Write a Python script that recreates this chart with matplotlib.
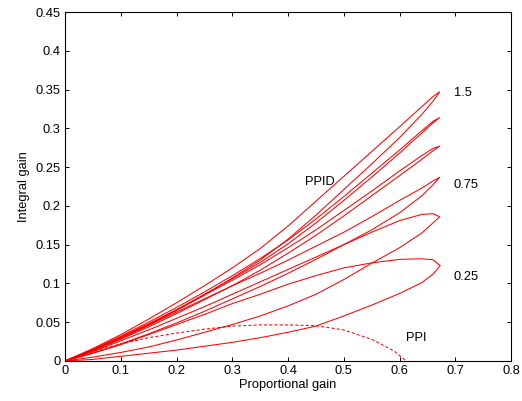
import matplotlib
matplotlib.use('Agg')
import matplotlib.pyplot as plt
import numpy as np

plt.rcParams['font.family'] = ['Liberation Sans', 'DejaVu Sans']

# proportional gain sample positions for each branch
kp = [0, 0.05, 0.1, 0.15, 0.2, 0.25, 0.3, 0.35, 0.4, 0.45, 0.5, 0.55, 0.6, 0.64, 0.66]

# PPID stability loops (upper and lower branch, then tip)
l1_up = [0, .016, .034, .054, .075, .097, .120, .145, .174, .206, .238, .270, .302, .328, .341]
l1_lo = [0, .013, .029, .046, .065, .085, .107, .130, .157, .188, .221, .254, .288, .318, .335]
l1_tip = (0.672, 0.347)

l2_up = [0, .015, .032, .050, .069, .089, .110, .132, .156, .183, .212, .242, .272, .297, .309]
l2_lo = [0, .014, .030, .047, .066, .086, .106, .127, .151, .178, .207, .237, .268, .294, .307]
l2_tip = (0.672, 0.314)

l3_up = [0, .015, .031, .048, .066, .085, .104, .124, .146, .169, .194, .219, .245, .265, .274]
l3_lo = [0, .013, .028, .044, .061, .079, .097, .117, .139, .162, .187, .213, .239, .260, .271]
l3_tip = (0.672, 0.277)

l4_up = [0, .014, .030, .046, .063, .080, .097, .113, .130, .148, .166, .186, .207, .223, .232]
l4_lo = [0, .010, .022, .035, .049, .064, .080, .096, .113, .131, .150, .169, .191, .213, .227]
l4_tip = (0.672, 0.237)

l5_up = [0, .012, .026, .040, .055, .070, .086, .102, .118, .134, .150, .166, .181, .189, .190]
l5_lo = [0, .005, .011, .018, .027, .037, .047, .058, .071, .086, .105, .126, .146, .165, .178]
l5_tip = (0.672, 0.186)

l6_up = [0, .010, .021, .034, .047, .060, .074, .086, .099, .110, .120, .1265, .131, .1318, .1305]
l6_lo = [0, .002, .006, .010, .014, .019, .024, .030, .037, .045, .058, .072, .087, .101, .112]
l6_tip = (0.673, 0.123)

loops = [(l1_up, l1_lo, l1_tip), (l2_up, l2_lo, l2_tip), (l3_up, l3_lo, l3_tip),
         (l4_up, l4_lo, l4_tip), (l5_up, l5_lo, l5_tip), (l6_up, l6_lo, l6_tip)]

# PPI boundary (dashed)
ppi_kp = [0, 0.05, 0.1, 0.15, 0.2, 0.25, 0.3, 0.35, 0.4, 0.45, 0.5, 0.55, 0.59, 0.612]
ppi_ki = [0, 0.012, 0.022, 0.030, 0.036, 0.041, 0.045, 0.0465, 0.0465, 0.0455, 0.040, 0.028, 0.013, 0]

fig = plt.figure(figsize=(5.22, 4.01), dpi=100)
ax = fig.add_axes([0.1245, 0.0998, 0.8545, 0.8702])

for up, lo, tip in loops:
    xs = kp + [tip[0]] + kp[::-1]
    ys = up + [tip[1]] + lo[::-1]
    ax.plot(xs, ys, color='red', lw=0.75)

ax.plot(ppi_kp, ppi_ki, color='red', lw=0.75, ls=(0, (3, 2)))

fs = 9.3
ax.text(0.697, 0.345, '1.5', fontsize=fs, va='center')
ax.text(0.697, 0.227, '0.75', fontsize=fs, va='center')
ax.text(0.697, 0.108, '0.25', fontsize=fs, va='center')
ax.text(0.43, 0.231, 'PPID', fontsize=fs, va='center')
ax.text(0.612, 0.030, 'PPI', fontsize=fs, va='center')

ax.set_xlim(0, 0.8)
ax.set_ylim(0, 0.45)
ax.set_xticks(np.arange(0, 0.81, 0.1))
ax.set_yticks(np.arange(0, 0.451, 0.05))
ax.set_xticklabels(['0', '0.1', '0.2', '0.3', '0.4', '0.5', '0.6', '0.7', '0.8'])
ax.set_yticklabels(['0', '0.05', '0.1', '0.15', '0.2', '0.25', '0.3', '0.35', '0.4', '0.45'])
ax.tick_params(direction='in', top=True, right=True, length=3, width=0.7, labelsize=fs, pad=3)
for s in ax.spines.values():
    s.set_linewidth(0.8)
ax.set_xlabel('Proportional gain', fontsize=fs, labelpad=1)
ax.set_ylabel('Integral gain', fontsize=fs, labelpad=4)

fig.savefig('out.png', dpi=100)
